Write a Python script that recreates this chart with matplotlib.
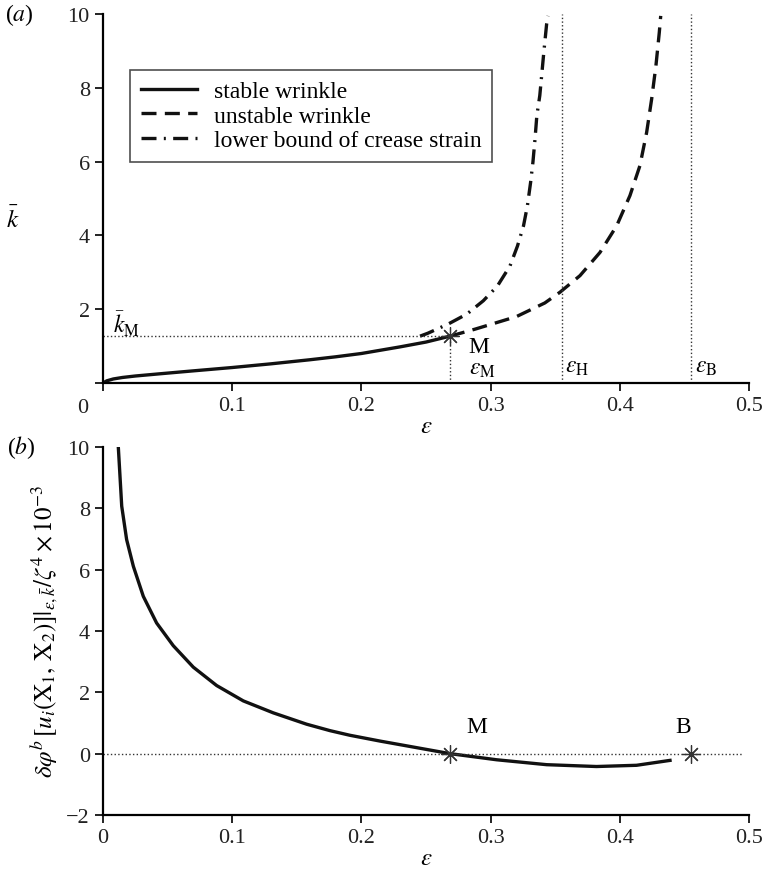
import numpy as np
import matplotlib
matplotlib.use('Agg')
import matplotlib.pyplot as plt
from matplotlib.transforms import offset_copy

plt.rcParams['font.family'] = ['Liberation Serif', 'DejaVu Serif']
plt.rcParams['mathtext.fontset'] = 'stix'

# (a) k-bar vs strain
stable_eps = [0, 0.003, 0.008, 0.015, 0.025, 0.044, 0.07, 0.1, 0.13, 0.16, 0.18, 0.2,
              0.215, 0.23, 0.25, 0.2686]
stable_k = [0, 0.06, 0.11, 0.15, 0.19, 0.25, 0.33, 0.42, 0.52, 0.63, 0.71, 0.8,
            0.89, 0.98, 1.11, 1.27]
unstable_eps = [0.2686, 0.288, 0.32, 0.342, 0.3537, 0.3692, 0.3847, 0.3976, 0.4079,
                0.4156, 0.4208, 0.4247, 0.428, 0.4306, 0.4317]
unstable_k = [1.27, 1.46, 1.80, 2.17, 2.46, 2.91, 3.54, 4.26, 5.08,
              5.89, 6.79, 7.70, 8.6, 9.5, 9.95]
crease_eps = [0.2454, 0.2515, 0.2673, 0.2817, 0.2944, 0.3053, 0.315, 0.3208, 0.3255,
              0.3285, 0.331, 0.3328, 0.3344, 0.3358, 0.3381, 0.3396, 0.3412, 0.3434, 0.3445]
crease_k = [1.27, 1.35, 1.60, 1.87, 2.23, 2.63, 3.17, 3.71, 4.26,
            4.80, 5.44, 5.99, 6.61, 7.24, 7.79, 8.35, 8.96, 9.73, 9.95]
eps_M, k_M = 0.2686, 1.27
eps_H = 0.355
eps_B = 0.455

# (b) second variation vs strain
var_eps = [0.0119, 0.0145, 0.0183, 0.0235, 0.0312, 0.0415, 0.0544, 0.0699, 0.088,
           0.1086, 0.1318, 0.1576, 0.1757, 0.191, 0.2144, 0.2686, 0.3047, 0.3434,
           0.382, 0.413, 0.4389]
var_val = [9.97, 8.07, 6.98, 6.11, 5.13, 4.26, 3.52, 2.82, 2.22,
           1.72, 1.33, 0.96, 0.75, 0.60, 0.41, 0.0, -0.2, -0.36,
           -0.42, -0.38, -0.22]

fig = plt.figure(figsize=(7.64, 8.70), dpi=100)
ax1 = fig.add_axes([0.1348, 0.5586, 0.8455, 0.4241])
ax2 = fig.add_axes([0.1348, 0.0621, 0.8455, 0.423])

lw = 2.4
for ax in (ax1, ax2):
    ax.spines['top'].set_visible(False)
    ax.spines['right'].set_visible(False)
    ax.spines['left'].set_linewidth(1.6)
    ax.spines['bottom'].set_linewidth(1.6)
    ax.tick_params(direction='out', length=6, width=1.4, labelsize=16, colors='#222')
    ax.set_xlim(0, 0.5)
    ax.set_xticks([0, 0.1, 0.2, 0.3, 0.4, 0.5])

# ---- (a)
ax1.plot(stable_eps, stable_k, color='#111', lw=lw, label='stable wrinkle')
ax1.plot(unstable_eps, unstable_k, color='#111', lw=lw, ls=(0, (4.5, 2.5)), label='unstable wrinkle')
ax1.plot(crease_eps, crease_k, color='#111', lw=lw, ls=(0, (4.5, 2.2, 0.6, 2.2)),
         label='lower bound of crease strain')
ax1.plot([0, eps_M], [k_M, k_M], color='#333', lw=1, ls=':')
ax1.plot([eps_M, eps_M], [0, k_M], color='#333', lw=1, ls=':')
ax1.plot([eps_H, eps_H], [0, 10], color='#333', lw=1, ls=':')
ax1.plot([eps_B, eps_B], [0, 10], color='#333', lw=1, ls=':')
ax1.plot([eps_M], [k_M], marker=(8, 2, 0), ms=13, mec='#333', mew=0.9, ls='none')
ax1.set_ylim(0, 10)
ax1.set_yticks([0, 2, 4, 6, 8, 10])
ax1.set_yticklabels(['', '2', '4', '6', '8', '10'])
ax1.set_xticklabels(['', '0.1', '0.2', '0.3', '0.4', '0.5'])
ax1.text(0, 0, '0', transform=offset_copy(ax1.transData, fig=fig, x=-20, y=-24, units='dots'),
         ha='center', va='center', fontsize=16, color='#222')
ax1.set_xlabel(r'$\varepsilon$', fontsize=18, labelpad=0)
ax1.text(-0.139, 0.444, r'$\bar{k}$', transform=ax1.transAxes, fontsize=18, ha='center', va='center')
ax1.text(0.008, 1.6, r'$\bar{k}_{\mathrm{M}}$', fontsize=17, ha='left', va='center')
ax1.text(0.283, 0.98, 'M', fontsize=17, ha='left', va='center')
ax1.text(0.283, 0.38, r'$\varepsilon_{\mathrm{M}}$', fontsize=17, ha='left', va='center')
ax1.text(0.358, 0.45, r'$\varepsilon_{\mathrm{H}}$', fontsize=17, ha='left', va='center')
ax1.text(0.458, 0.45, r'$\varepsilon_{\mathrm{B}}$', fontsize=17, ha='left', va='center')
leg = ax1.legend(loc='upper left', bbox_to_anchor=(0.042, 0.848), fontsize=17, frameon=True,
                 fancybox=False, edgecolor='#222', handlelength=2.4, labelspacing=0.12,
                 borderpad=0.45, borderaxespad=0, handletextpad=0.7)
leg.get_frame().set_linewidth(1.2)

# ---- (b)
ax2.plot(var_eps, var_val, color='#111', lw=lw)
ax2.plot([0, 0.495], [0, 0], color='#333', lw=1, ls=':')
ax2.plot([eps_M, eps_B], [0, 0], marker=(8, 2, 0), ms=13, mec='#333', mew=0.9, ls='none')
ax2.text(0.2895, 0.88, 'M', fontsize=17, ha='center', va='center')
ax2.text(0.449, 0.88, 'B', fontsize=17, ha='center', va='center')
ax2.set_ylim(-2, 10)
ax2.set_yticks([-2, 0, 2, 4, 6, 8, 10])
ax2.set_yticklabels(['\u22122', '0', '2', '4', '6', '8', '10'])
ax2.set_xticklabels(['0', '0.1', '0.2', '0.3', '0.4', '0.5'])
ax2.set_xlabel(r'$\varepsilon$', fontsize=18, labelpad=0)
ax2.set_ylabel(r'$\delta\varphi^{b}\,[u_i(\mathrm{X}_1,\,\mathrm{X}_2)]|_{\varepsilon,\bar{k}}/\zeta^4\times10^{-3}$',
               fontsize=18, labelpad=4)

fig.text(19 / 764, 1 - 15 / 870, r'($\it{a}$)', fontsize=17, ha='center', va='center')
fig.text(21 / 764, 1 - 448 / 870, r'($\it{b}$)', fontsize=17, ha='center', va='center')

fig.savefig('out.png', dpi=100)
